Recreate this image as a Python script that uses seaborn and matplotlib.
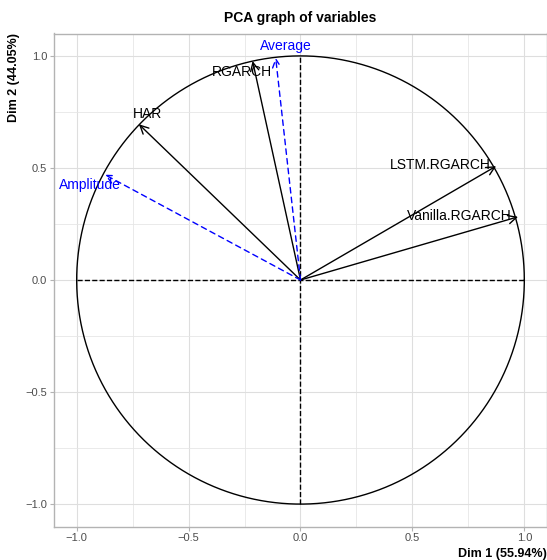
import numpy as np
import pandas as pd
import matplotlib
matplotlib.use("Agg")
import matplotlib.pyplot as plt
import seaborn as sns

# ---- data ----
variables = ["HAR", "RGARCH", "LSTM.RGARCH", "Vanilla.RGARCH", "Average", "Amplitude"]
dim1 = [-0.722, -0.214, 0.874, 0.972, -0.111, -0.874]
dim2 = [0.695, 0.977, 0.508, 0.282, 0.992, 0.470]
var_type = ["active", "active", "active", "active", "supp", "supp"]
x_ticks = [-1.0, -0.5, 0.0, 0.5, 1.0]
y_ticks = [-1.0, -0.5, 0.0, 0.5, 1.0]
title = "PCA graph of variables"
xlab = "Dim 1 (55.94%)"
ylab = "Dim 2 (44.05%)"

df = pd.DataFrame({"variable": variables, "Dim1": dim1, "Dim2": dim2, "type": var_type})

# label offsets in points (text centre relative to arrow tip)
label_offsets = {
    "HAR": (6.5, 7.5),
    "RGARCH": (-8.0, -8.0),
    "LSTM.RGARCH": (-40.5, 0.5),
    "Vanilla.RGARCH": (-42.5, 0.5),
    "Average": (7.0, 8.5),
    "Amplitude": (-10.5, -7.5),
}

sns.set_theme(style="whitegrid")
plt.rcParams["font.family"] = ["Liberation Sans", "DejaVu Sans"]
plt.rcParams["text.color"] = "black"
plt.rcParams["axes.labelcolor"] = "black"

fig = plt.figure(figsize=(5.47, 5.60), dpi=100)
ax = fig.add_axes([54.3 / 547, 33.5 / 560, 492.4 / 547, 493 / 560])

# grid
ax.set_xlim(-1.1, 1.1)
ax.set_ylim(-1.1, 1.1)
ax.set_xticks(x_ticks)
ax.set_yticks(y_ticks)
ax.set_xticks([-0.75, -0.25, 0.25, 0.75], minor=True)
ax.set_yticks([-0.75, -0.25, 0.25, 0.75], minor=True)
ax.grid(True, which="major", color="#DEDEDE", linewidth=0.8)
ax.grid(True, which="minor", color="#E6E6E6", linewidth=0.6)
ax.set_axisbelow(True)
for s in ax.spines.values():
    s.set_color("#B3B3B3")
    s.set_linewidth(1.0)
ax.set_facecolor("white")

ax.tick_params(axis="both", which="major", length=3, width=0.8, color="#B3B3B3",
               labelsize=8, labelcolor="#4D4D4D", pad=2, bottom=True, left=True)
ax.tick_params(axis="both", which="minor", length=0)
ax.set_xticklabels([f"{t:.1f}".replace("-", "\u2212") for t in x_ticks])
ax.set_yticklabels([f"{t:.1f}".replace("-", "\u2212") for t in y_ticks])

# circle
theta = np.linspace(0, 2 * np.pi, 400)
ax.plot(np.cos(theta), np.sin(theta), color="black", linewidth=1.0)
# dashed axes
ax.plot([-1, 1], [0, 0], color="black", linestyle="--", linewidth=1.0)
ax.plot([0, 0], [-1, 1], color="black", linestyle="--", linewidth=1.0)

# arrows and labels
for _, r in df.iterrows():
    col = "black" if r["type"] == "active" else "blue"
    ls = "-" if r["type"] == "active" else (0, (4, 3))
    ax.annotate("", xy=(r["Dim1"], r["Dim2"]), xytext=(0, 0),
                arrowprops=dict(arrowstyle="->,head_length=0.5,head_width=0.25",
                                color=col, linewidth=1.0, linestyle=ls,
                                shrinkA=0, shrinkB=0))
    dx, dy = label_offsets[r["variable"]]
    ax.annotate(r["variable"], xy=(r["Dim1"], r["Dim2"]), xytext=(dx, dy),
                textcoords="offset points", ha="center", va="center",
                fontsize=10, color=col)

ax.set_title(title, fontsize=10, fontweight="bold", pad=8, color="black")
ax.set_xlabel(xlab, fontsize=9, fontweight="bold", loc="right", labelpad=3, color="black")
ax.set_ylabel(ylab, fontsize=9, fontweight="bold", loc="top", labelpad=4, color="black")

fig.savefig("out.png", dpi=100)
